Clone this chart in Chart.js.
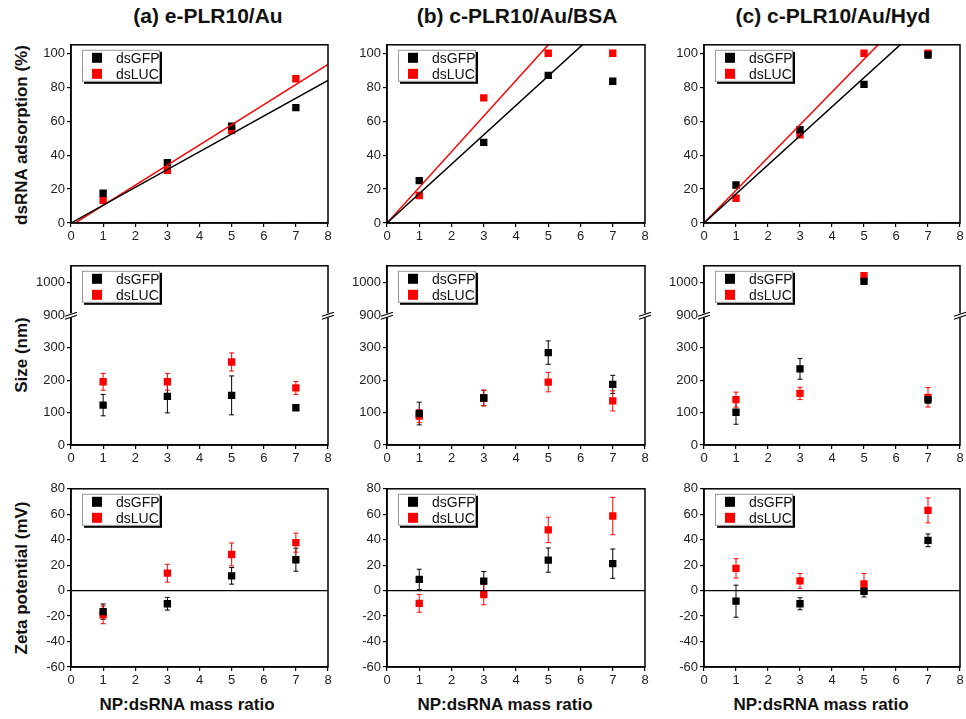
<!DOCTYPE html>
<html lang="en">
<head>
<meta charset="UTF-8">
<title>dsRNA adsorption, size and zeta potential</title>
<script src="https://cdn.jsdelivr.net/npm/chart.js"></script>
<style>
  body { margin: 0; background: #fff; }
  #wrap { position: relative; width: 966px; height: 719px; font-family: "Liberation Sans", Arial, sans-serif; }
  #wrap canvas { position: absolute; }
  .lbl { position: absolute; font-weight: bold; font-size: 17px; color: #111; white-space: nowrap; transform: translate(-50%, -50%); }
  .ctitle { font-size: 21px; }
  .ytitle { transform: translate(-50%, -50%) rotate(-90deg); }
</style>
</head>
<body>
<div id="wrap">
  <div class="lbl ctitle" style="left:208px; top:16px">(a) e-PLR10/Au</div>
  <div class="lbl ctitle" style="left:517px; top:16px">(b) c-PLR10/Au/BSA</div>
  <div class="lbl ctitle" style="left:833px; top:16px">(c) c-PLR10/Au/Hyd</div>
  <div class="lbl ytitle" style="left:22px; top:135px">dsRNA adsorption (%)</div>
  <div class="lbl ytitle" style="left:22px; top:355px">Size (nm)</div>
  <div class="lbl ytitle" style="left:22px; top:578px">Zeta potential (mV)</div>
  <div class="lbl" style="left:187px; top:705px">NP:dsRNA mass ratio</div>
  <div class="lbl" style="left:505px; top:705px">NP:dsRNA mass ratio</div>
  <div class="lbl" style="left:821px; top:705px">NP:dsRNA mass ratio</div>
</div>
<script>
// ---- data ----
const ratios = [1, 3, 5, 7];
const seriesNames = ['dsGFP', 'dsLUC'];

// adsorption (%)
const adsGFP_a = [17.5, 35.5, 57, 68];
const adsLUC_a = [13.3, 31, 54.5, 85];
const adsGFP_b = [25, 47.5, 87, 83.5];
const adsLUC_b = [16.2, 73.7, 100, 100];
const adsGFP_c = [22.4, 55, 81.7, 99];
const adsLUC_c = [14.6, 52, 100, 100];

// linear fits, end points at x = 0 and x = 8
const fitX = [0, 8];
const fitGFP_a = [0, 84];
const fitLUC_a = [-1.5, 93.4];
const fitGFP_b = [0, 138.6];
const fitLUC_b = [0, 168];
const fitGFP_c = [0, 137];
const fitLUC_c = [0, 154.4];

// size (nm) +- error
const sizeGFP_a = [123, 150, 153, 115];
const sizeGFPerr_a = [33, 51, 60, 6];
const sizeLUC_a = [195, 195, 256, 176];
const sizeLUCerr_a = [26, 26, 28, 20];
const sizeGFP_b = [97, 145, 285, 187];
const sizeGFPerr_b = [35, 24, 36, 28];
const sizeLUC_b = [89, 145, 194, 136];
const sizeLUCerr_b = [20, 24, 30, 31];
const sizeGFP_c = [101, 235, 1003, 140];
const sizeGFPerr_c = [37, 32, 0, 12];
const sizeLUC_c = [140, 159, 1020, 147];
const sizeLUCerr_c = [23, 19, 0, 30];

// zeta potential (mV) +- error
const zetaGFP_a = [-16.5, -10.3, 11.6, 24.3];
const zetaGFPerr_a = [6, 5, 6.5, 9];
const zetaLUC_a = [-19, 13.7, 28.4, 37.7];
const zetaLUCerr_a = [7, 7, 9, 7.5];
const zetaGFP_b = [8.8, 7.5, 24, 21.2];
const zetaGFPerr_b = [8, 7.5, 9.5, 11.5];
const zetaLUC_b = [-10, -3.1, 47.7, 58.6];
const zetaLUCerr_b = [7, 8, 10, 14.7];
const zetaGFP_c = [-8.3, -10.3, -0.5, 39.5];
const zetaGFPerr_c = [12.6, 4.7, 4.5, 5];
const zetaLUC_c = [17.5, 7.7, 5.2, 63];
const zetaLUCerr_c = [7.6, 5.8, 8.3, 9.8];

// axis ranges
const xRange = [0, 8];
const adsRange = [0, 105];
const sizeLowRange = [0, 400];
const sizeHighRange = [900, 1050];
const zetaRange = [-60, 80];
const breakAt = 800;

// ---- layout ----
const colLeft = [71, 387, 704];
const colWidth = [257, 258, 256];
const rowTop = [43, 264, 487];
const rowHeight = [180, 181, 180];
const AXW = 40, AXH = 24, PADT = 8, PADR = 8;
const BLACK = '#000000', RED = '#ff0000';

// error bars, drawn under the markers
const errorBars = {
  id: 'errorBars',
  beforeDatasetsDraw(chart) {
    const ctx = chart.ctx;
    chart.data.datasets.forEach((ds, di) => {
      if (!chart.isDatasetVisible(di) || ds.type === 'line') return;
      const ys = chart.scales[ds.yAxisID || 'y'];
      const xs = chart.scales.x;
      ctx.save();
      ctx.strokeStyle = ds.borderColor;
      ctx.lineWidth = 1;
      ds.data.forEach(p => {
        if (p.y === null || !p.e) return;
        const px = xs.getPixelForValue(p.x);
        const top = ys.getPixelForValue(p.y + p.e);
        const bot = ys.getPixelForValue(p.y - p.e);
        ctx.beginPath();
        ctx.moveTo(px, top); ctx.lineTo(px, bot);
        ctx.moveTo(px - 2.5, top); ctx.lineTo(px + 2.5, top);
        ctx.moveTo(px - 2.5, bot); ctx.lineTo(px + 2.5, bot);
        ctx.stroke();
      });
      ctx.restore();
    });
  }
};

// frame, zero line, axis break marks and the boxed legend
const decor = {
  id: 'decor',
  afterDraw(chart, args, opts) {
    const ctx = chart.ctx;
    const a = chart.chartArea;
    ctx.save();
    if (opts.zeroLine) {
      const y0 = chart.scales.y.getPixelForValue(0);
      ctx.strokeStyle = BLACK; ctx.lineWidth = 1.3;
      ctx.beginPath(); ctx.moveTo(a.left, y0); ctx.lineTo(a.right, y0); ctx.stroke();
    }
    ctx.strokeStyle = BLACK; ctx.lineWidth = 1.5;
    ctx.strokeRect(a.left, a.top, a.right - a.left, a.bottom - a.top);

    if (opts.broken) {
      const yb = chart.scales.y.top;
      [a.left, a.right].forEach(xb => {
        ctx.fillStyle = '#fff';
        ctx.fillRect(xb - 6, yb - 2, 12, 4);
        ctx.strokeStyle = BLACK; ctx.lineWidth = 1.2;
        ctx.beginPath();
        ctx.moveTo(xb - 6, yb + 1); ctx.lineTo(xb + 6, yb - 3);
        ctx.moveTo(xb - 6, yb + 4); ctx.lineTo(xb + 6, yb);
        ctx.stroke();
      });
    }

    // legend
    const lx = a.left + 11, ly = a.top + 5, lw = 78, lh = 32;
    ctx.fillStyle = BLACK;
    ctx.fillRect(lx + 2, ly + 2, lw, lh);
    ctx.fillStyle = '#fff';
    ctx.fillRect(lx, ly, lw, lh);
    ctx.strokeStyle = '#999'; ctx.lineWidth = 1;
    ctx.strokeRect(lx + 0.5, ly + 0.5, lw - 1, lh - 1);
    ctx.font = '14px "Liberation Sans", Arial, sans-serif';
    ctx.textBaseline = 'middle';
    [BLACK, RED].forEach((c, i) => {
      const cy = ly + 8 + i * 16;
      ctx.fillStyle = c;
      ctx.fillRect(lx + 10, cy - 5, 10, 10);
      ctx.fillStyle = '#111';
      ctx.fillText(seriesNames[i], lx + 34, cy + 1);
    });
    ctx.restore();
  }
};

function pts(vals, errs) {
  return ratios.map((x, i) => ({ x: x, y: vals[i], e: errs ? errs[i] : 0 }));
}
function splitPts(vals, errs, high) {
  return ratios.map((x, i) => ({ x: x, y: (vals[i] >= breakAt) === high ? vals[i] : null, e: errs[i] }));
}
function scatterSet(label, color, data, axis) {
  return { type: 'scatter', label: label, data: data, yAxisID: axis || 'y',
    backgroundColor: color, borderColor: color, pointStyle: 'rect',
    pointRadius: 5.2, pointHoverRadius: 5.2, pointBorderWidth: 0 };
}
function fitSet(color, ys) {
  return { type: 'line', data: fitX.map((x, i) => ({ x: x, y: ys[i] })),
    borderColor: color, borderWidth: 1.5, pointRadius: 0, fill: false };
}

const tickFont = { family: '"Liberation Sans", Arial, sans-serif', size: 13 };
function yAxis(range, step, extra) {
  return Object.assign({
    type: 'linear', position: 'left', min: range[0], max: range[1],
    ticks: { stepSize: step, includeBounds: false, color: '#222', font: tickFont, padding: 2,
      callback: v => String(v) },
    grid: { drawOnChartArea: false, tickLength: 4, tickColor: BLACK, lineWidth: 1.2 },
    border: { color: BLACK, width: 1.5 },
    afterFit(s) { s.width = AXW; }
  }, extra || {});
}

function makeChart(row, col, datasets, yScales, decorOpts) {
  const cv = document.createElement('canvas');
  cv.width = colWidth[col] + AXW + PADR;
  cv.height = rowHeight[row] + PADT + AXH;
  cv.style.left = (colLeft[col] - AXW) + 'px';
  cv.style.top = (rowTop[row] - PADT) + 'px';
  document.getElementById('wrap').appendChild(cv);
  const scales = Object.assign({
    x: {
      type: 'linear', min: xRange[0], max: xRange[1],
      ticks: { stepSize: 1, includeBounds: false, color: '#222', font: tickFont, padding: 2 },
      grid: { drawOnChartArea: false, tickLength: 4, tickColor: BLACK, lineWidth: 1.2 },
      border: { color: BLACK, width: 1.5 },
      afterFit(s) { s.height = AXH; }
    }
  }, yScales);
  return new Chart(cv, {
    data: { datasets: datasets },
    options: {
      responsive: false, animation: false,
      layout: { padding: { top: PADT, right: PADR, left: 0, bottom: 0 } },
      plugins: { legend: { display: false }, tooltip: { enabled: false }, decor: decorOpts || {} },
      scales: scales
    },
    plugins: [errorBars, decor]
  });
}

// row 1: adsorption with fits
const ads = [[adsGFP_a, adsLUC_a, fitGFP_a, fitLUC_a],
             [adsGFP_b, adsLUC_b, fitGFP_b, fitLUC_b],
             [adsGFP_c, adsLUC_c, fitGFP_c, fitLUC_c]];
ads.forEach((d, c) => {
  makeChart(0, c, [
    fitSet(BLACK, d[2]), fitSet(RED, d[3]),
    scatterSet('dsGFP', BLACK, pts(d[0])),
    scatterSet('dsLUC', RED, pts(d[1]))
  ], { y: yAxis(adsRange, 20) });
});

// row 2: size with broken axis
const size = [[sizeGFP_a, sizeGFPerr_a, sizeLUC_a, sizeLUCerr_a],
              [sizeGFP_b, sizeGFPerr_b, sizeLUC_b, sizeLUCerr_b],
              [sizeGFP_c, sizeGFPerr_c, sizeLUC_c, sizeLUCerr_c]];
size.forEach((d, c) => {
  makeChart(1, c, [
    scatterSet('dsGFP', BLACK, splitPts(d[0], d[1], false), 'y'),
    scatterSet('dsLUC', RED, splitPts(d[2], d[3], false), 'y'),
    scatterSet('dsGFP', BLACK, splitPts(d[0], d[1], true), 'y2'),
    scatterSet('dsLUC', RED, splitPts(d[2], d[3], true), 'y2')
  ], {
    y: yAxis(sizeLowRange, 100, { stack: 'size', stackWeight: 131,
      afterBuildTicks(s) { s.ticks = s.ticks.filter(t => t.value < sizeLowRange[1]); } }),
    y2: yAxis(sizeHighRange, 100, { stack: 'size', stackWeight: 50 })
  }, { broken: true });
});

// row 3: zeta potential
const zeta = [[zetaGFP_a, zetaGFPerr_a, zetaLUC_a, zetaLUCerr_a],
              [zetaGFP_b, zetaGFPerr_b, zetaLUC_b, zetaLUCerr_b],
              [zetaGFP_c, zetaGFPerr_c, zetaLUC_c, zetaLUCerr_c]];
zeta.forEach((d, c) => {
  makeChart(2, c, [
    scatterSet('dsGFP', BLACK, pts(d[0], d[1])),
    scatterSet('dsLUC', RED, pts(d[2], d[3]))
  ], { y: yAxis(zetaRange, 20) }, { zeroLine: true });
});
</script>
</body>
</html>
